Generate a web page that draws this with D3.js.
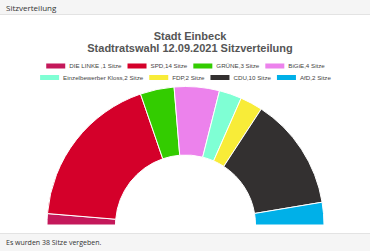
<!DOCTYPE html>
<html>
<head>
<meta charset="utf-8">
<script src="https://cdn.jsdelivr.net/npm/d3@7"></script>
<style>
  body { margin: 0; background: #fff; font-family: "Open Sans", sans-serif; }
  #wrap { width: 370px; height: 251px; position: relative; overflow: hidden; }
  .head { position: absolute; left: 0; top: 0; width: 370px; height: 15px; background: #f5f5f5; border-bottom: 1px solid #e3e3e3; font-size: 8px; color: #333; line-height: 15px; padding-left: 6px; box-sizing: border-box; }
  .foot { position: absolute; left: 0; top: 233px; width: 370px; height: 18px; background: #f5f5f5; border-top: 1px solid #e3e3e3; font-size: 7px; color: #333; line-height: 18px; padding-left: 6px; box-sizing: border-box; }
  svg { position: absolute; left: 0; top: 0; }
</style>
</head>
<body>
<div id="wrap">
  <svg id="chart" width="370" height="251"></svg>
  <div class="head">Sitzverteilung</div>
  <div class="foot">Es wurden 38 Sitze vergeben.</div>
</div>
<script>
const parties = ['DIE LINKE ', 'SPD', 'GRÜNE', 'BiGiE', 'Einzelbewerber Kloss', 'FDP', 'CDU', 'AfD'];
const seats = [1, 14, 3, 4, 2, 2, 10, 2];
const colors = ['#c4185a', '#d4002a', '#33cc00', '#ec82ec', '#7fffd4', '#f8ec38', '#333030', '#00b0e8'];
const titleLines = ['Stadt Einbeck', 'Stadtratswahl 12.09.2021 Sitzverteilung'];
const legendRows = [[0, 1, 2, 3], [4, 5, 6, 7]];

const svg = d3.select('#chart');
const cx = 185.5, cy = 225, outerR = 138.5, innerR = 70;

// title
svg.selectAll('text.title').data(titleLines).join('text')
  .attr('class', 'title')
  .attr('x', 190)
  .attr('y', (d, i) => 40 + i * 11.5)
  .attr('text-anchor', 'middle')
  .attr('font-family', 'Liberation Sans, Arial, sans-serif')
  .attr('font-weight', 'bold')
  .attr('font-size', 11)
  .attr('fill', '#555')
  .text(d => d);

// legend, two centred rows
const legend = svg.append('g');
const rowY = [66, 77.5];
const gap = 6;
legendRows.forEach((row, r) => {
  const g = legend.append('g');
  let x = 0;
  row.forEach(i => {
    const item = g.append('g').attr('transform', `translate(${x},0)`);
    item.append('rect').attr('x', 0).attr('y', -2.5).attr('width', 19).attr('height', 5).attr('fill', colors[i]);
    const t = item.append('text').attr('x', 23).attr('y', 2.2)
      .attr('font-family', 'Liberation Sans, Arial, sans-serif')
      .attr('font-size', 6.2).attr('fill', '#444')
      .text(`${parties[i]},${seats[i]} Sitze`);
    x += 23 + t.node().getComputedTextLength() + gap;
  });
  const w = x - gap;
  g.attr('transform', `translate(${cx - w / 2},${rowY[r]})`);
});

// parliament arc
const pie = d3.pie().sort(null).value(d => d).startAngle(-Math.PI / 2).endAngle(Math.PI / 2);
const arc = d3.arc().innerRadius(innerR).outerRadius(outerR);
svg.append('g').attr('transform', `translate(${cx},${cy})`)
  .selectAll('path').data(pie(seats)).join('path')
  .attr('d', arc)
  .attr('fill', (d, i) => colors[i])
  .attr('stroke', '#fff')
  .attr('stroke-width', 1);
</script>
</body>
</html>
